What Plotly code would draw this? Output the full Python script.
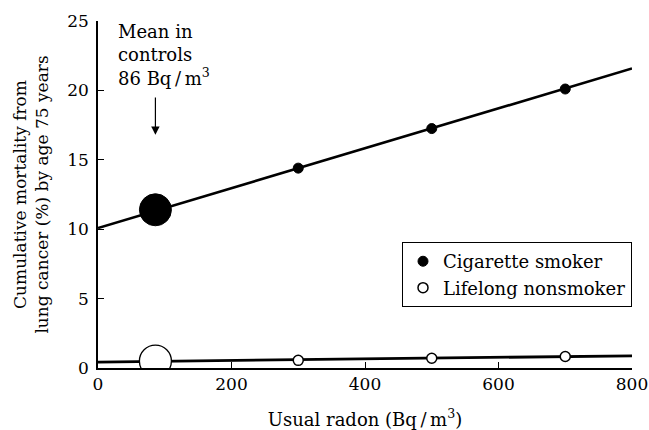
import plotly.graph_objects as go

# Usual radon concentration (Bq/m^3) at the plotted exposure levels
radon = [300, 500, 700]
smoker_mortality = [14.4, 17.25, 20.1]
nonsmoker_mortality = [0.55, 0.7, 0.83]

control_mean = [86]
smoker_at_mean = [11.4]
nonsmoker_at_mean = [0.5]

# Fitted linear trends, evaluated at the ends of the radon axis
fit_radon = [0, 800]
smoker_fit = [10.08, 21.58]
nonsmoker_fit = [0.43, 0.88]

FONT = "DejaVu Serif"
INK = "black"
UNIT = "Bq\u2009/\u2009m<sup>3</sup>"

fig = go.Figure()

fig.add_trace(go.Scatter(x=fit_radon, y=smoker_fit, mode="lines",
                         line=dict(color=INK, width=2.6), showlegend=False,
                         hoverinfo="skip"))
fig.add_trace(go.Scatter(x=fit_radon, y=nonsmoker_fit, mode="lines",
                         line=dict(color=INK, width=2.8), showlegend=False,
                         hoverinfo="skip"))

fig.add_trace(go.Scatter(x=radon, y=smoker_mortality, mode="markers",
                         name="Cigarette smoker",
                         marker=dict(size=10, color=INK,
                                     line=dict(color=INK, width=1))))
fig.add_trace(go.Scatter(x=radon, y=nonsmoker_mortality, mode="markers",
                         name="Lifelong nonsmoker",
                         marker=dict(size=10, color="white",
                                     line=dict(color=INK, width=1.5))))

fig.add_trace(go.Scatter(x=control_mean, y=smoker_at_mean, mode="markers",
                         showlegend=False,
                         marker=dict(size=32, color=INK,
                                     line=dict(color=INK, width=1))))
fig.add_trace(go.Scatter(x=control_mean, y=nonsmoker_at_mean, mode="markers",
                         showlegend=False,
                         marker=dict(size=32, color="white",
                                     line=dict(color=INK, width=1.3))))

# Arrow pointing down at the control mean
fig.add_annotation(x=control_mean[0], y=16.8, ax=control_mean[0], ay=19.6,
                   xref="x", yref="y", axref="x", ayref="y", text="",
                   showarrow=True, arrowhead=2, arrowsize=1.4,
                   arrowwidth=1.2, arrowcolor=INK)
fig.add_annotation(x=0.033, y=1.005, xref="paper", yref="paper",
                   xanchor="left", yanchor="top", align="left",
                   showarrow=False,
                   text="Mean in<br>controls<br>86 " + UNIT,
                   font=dict(family=FONT, size=18, color=INK))

fig.update_layout(
    width=649, height=430,
    margin=dict(l=98, r=17, t=21, b=62),
    paper_bgcolor="white", plot_bgcolor="white",
    font=dict(family=FONT, size=17, color=INK),
    showlegend=True,
    legend=dict(x=1.0, y=0.363, xanchor="right", yanchor="top",
                bgcolor="white", bordercolor=INK, borderwidth=1,
                font=dict(family=FONT, size=18, color=INK),
                itemwidth=30, tracegroupgap=0),
    xaxis=dict(range=[0, 800], tickvals=[0, 200, 400, 600, 800],
               ticks="inside", ticklen=6, tickcolor=INK, tickwidth=1,
               showline=True, linecolor=INK, linewidth=1.5,
               showgrid=False, zeroline=False, automargin=False,
               ticklabeloverflow="allow",
               tickfont=dict(family=FONT, size=17),
               title=dict(text="Usual radon (" + UNIT + ")",
                          font=dict(family=FONT, size=18), standoff=21)),
    yaxis=dict(range=[0, 25], tickvals=[0, 5, 10, 15, 20, 25],
               ticks="inside", ticklen=6, tickcolor=INK, tickwidth=1,
               showline=True, linecolor=INK, linewidth=1.5,
               showgrid=False, zeroline=False, automargin=False,
               ticklabelstandoff=4,
               tickfont=dict(family=FONT, size=17),
               title=dict(text="Cumulative mortality from<br>lung cancer (%) by age 75 years",
                          font=dict(family=FONT, size=17), standoff=14)),
)

fig.write_html("out.html")
